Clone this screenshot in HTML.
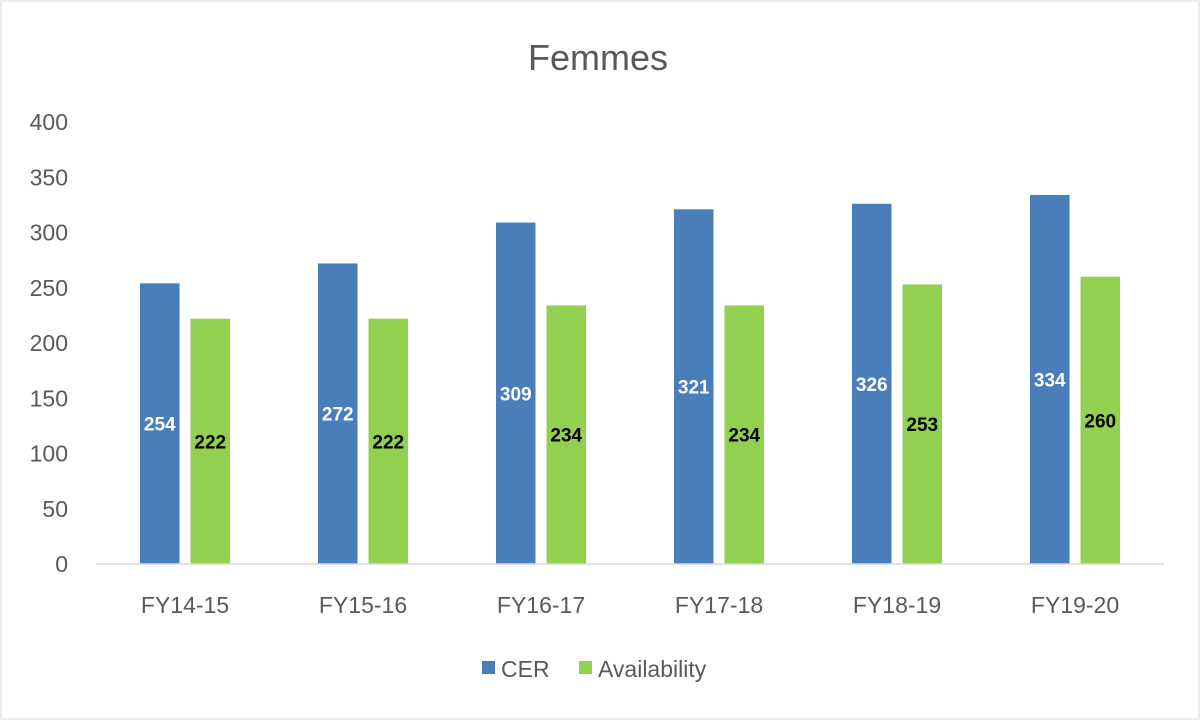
<!DOCTYPE html>
<html><head><meta charset="utf-8"><style>
html,body{margin:0;padding:0;background:#fff;}
svg{display:block;font-family:"Liberation Sans",sans-serif;}
</style></head><body>
<svg id="chart" width="1200" height="720">
<rect x="1" y="1" width="1198" height="718" fill="#fff" stroke="#d9d9d9"/>
<text x="598" y="70" text-anchor="middle" font-size="36" fill="#595959">Femmes</text>
<g id="yaxis"></g>
<g id="bars"></g>
<g id="xaxis"></g>
<g>
<g><rect x="482" y="661" width="13" height="13" fill="#4a7ebb"/><text x="501" y="677" font-size="23" fill="#595959">CER</text></g>
<g><rect x="579" y="661" width="13" height="13" fill="#92d050"/><text x="598" y="677" font-size="23" fill="#595959">Availability</text></g>
</g>
</svg>
<script>
const categories=["FY14-15","FY15-16","FY16-17","FY17-18","FY18-19","FY19-20"];
const cerValues=[254,272,309,321,326,334];
const availValues=[222,222,234,234,253,260];
const yTicks=[0,50,100,150,200,250,300,350,400];
const NS="http://www.w3.org/2000/svg";
const x0=96,x1=1164,y0=564,yTop=122,yMax=400;
const band=(x1-x0)/categories.length;
const yS=v=>y0-(v/yMax)*(y0-yTop);
const xC=i=>x0+band*(i+0.5);
function mk(tag,attrs,parent,txt){const e=document.createElementNS(NS,tag);for(const k in attrs)e.setAttribute(k,attrs[k]);if(txt!==undefined)e.textContent=txt;parent.appendChild(e);return e;}
const ya=document.getElementById('yaxis'),bg=document.getElementById('bars'),xa=document.getElementById('xaxis');
yTicks.forEach(t=>{const e=mk('text',{x:68,y:yS(t)+8,'text-anchor':'end','font-size':23,fill:'#595959'},ya,t);

});
const ax=mk('line',{x1:x0,x2:x1,y1:y0,y2:y0,stroke:'#d9d9d9','stroke-width':1.5},xa);


const bw=39.5,gap=11;
categories.forEach((c,i)=>{
 const cx=xC(i);
 const l=mk('text',{x:cx,y:613,'text-anchor':'middle','font-size':23,fill:'#595959'},xa,c);
 
 
 const xa1=cx-gap/2-bw, xb=cx+gap/2;
 const r1=mk('rect',{x:xa1,y:yS(cerValues[i]),width:bw,height:y0-yS(cerValues[i]),fill:'#4a7ebb'},bg);
 
 
 const r2=mk('rect',{x:xb,y:yS(availValues[i]),width:bw,height:y0-yS(availValues[i]),fill:'#92d050'},bg);
 
 
 const t1=mk('text',{x:xa1+bw/2,y:(yS(cerValues[i])+y0)/2+7,'text-anchor':'middle','font-size':19,'font-weight':'bold',fill:'#fff'},bg,cerValues[i]);
 
 
 const t2=mk('text',{x:xb+bw/2,y:(yS(availValues[i])+y0)/2+7,'text-anchor':'middle','font-size':19,'font-weight':'bold',fill:'#000'},bg,availValues[i]);
 
 
});
</script>
</body></html>
